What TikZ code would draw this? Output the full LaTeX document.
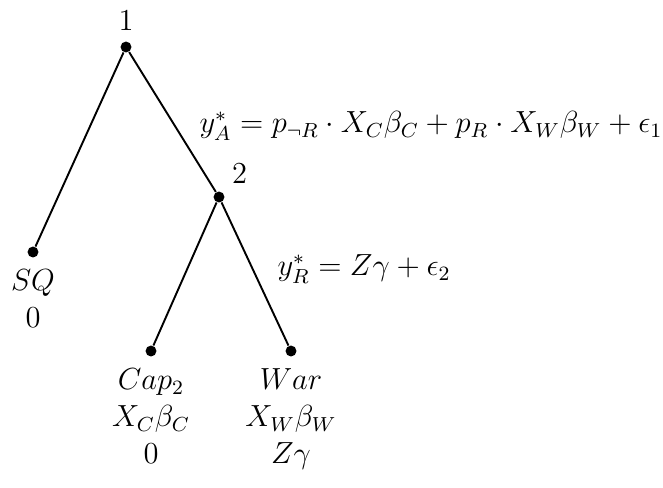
\documentclass[12pt,tikz,border=0pt]{standalone}
\usepackage{amsmath,amssymb}
\usetikzlibrary{positioning}

\begin{document}
\begin{tikzpicture}[
  x=0.393pt, y=-0.393pt,
  dot/.style={circle, fill=black, inner sep=0pt, minimum size=4.3pt},
  branch/.style={draw, line width=0.75pt},
  payoff/.style={align=center, inner sep=1pt},
  eqlab/.style={anchor=west, inner sep=0pt},
]
\useasboundingbox (0,0) rectangle (663,487);

% --- decision nodes ---
\node[dot, label={[label distance=0pt]above:$1$}] (n1) at (126,47) {};
\node[dot, label={[label distance=-1pt]above right:$2$}] (n2) at (219,197) {};

% --- terminal nodes ---
\node[dot] (sq) at (33,252) {};
\node[dot] (cap) at (151,351) {};
\node[dot] (war) at (291,351) {};

% --- branches ---
\draw[branch] (n1) -- (sq);
\draw[branch] (n1) -- (n2);
\draw[branch] (n2) -- (cap);
\draw[branch] (n2) -- (war);

% --- equations on branches ---
\node[eqlab] (eqA) at (199,126)
  {$y^*_A = p_{\neg R}\cdot X_C\beta_C + p_R\cdot X_W\beta_W + \epsilon_1$};
\node[eqlab] (eqR) at (277,269) {$y^*_R = Z\gamma + \epsilon_2$};

% --- outcomes ---
\node[payoff, below=3.5pt of sq, anchor=north] {$SQ$\\$0$};
\node[payoff, below=3.5pt of cap, anchor=north] {$Cap_2$\\$X_C\beta_C$\\$0$};
\node[payoff, below=3.5pt of war, anchor=north] {$War$\\$X_W\beta_W$\\$Z\gamma$};
\end{tikzpicture}
\end{document}
